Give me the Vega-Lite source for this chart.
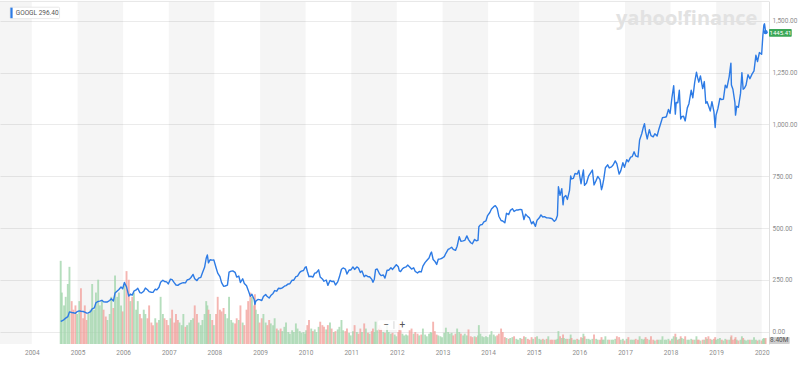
{
  "$schema": "https://vega.github.io/schema/vega-lite/v6.json",
  "width": 769,
  "height": 343,
  "autosize": {"type": "none"},
  "padding": {"left": 0, "top": 1, "right": 31, "bottom": 21},
  "background": "#ffffff",
  "config": {
    "view": {"stroke": null},
    "font": "Roboto",
    "scale": {"continuousPadding": 0},
    "axis": {"labelFont": "Roboto", "labelFontSize": 6.5, "labelColor": "#8c8c8c"}
  },
  "datasets": {
    "one": [{}],
    "bands": [
      {"s": "2003-01-01", "e": "2004-01-01"},
      {"s": "2005-01-01", "e": "2006-01-01"},
      {"s": "2007-01-01", "e": "2008-01-01"},
      {"s": "2009-01-01", "e": "2010-01-01"},
      {"s": "2011-01-01", "e": "2012-01-01"},
      {"s": "2013-01-01", "e": "2014-01-01"},
      {"s": "2015-01-01", "e": "2016-01-01"},
      {"s": "2017-01-01", "e": "2018-01-01"},
      {"s": "2019-01-01", "e": "2020-01-01"}
    ],
    "px": [
      {"d":"2004-08-19","p":50,"v":97},{"d":"2004-08-28","p":51,"v":60},{"d":"2004-09-15","p":58,"v":45},{"d":"2004-09-28","p":65,"v":55},
      {"d":"2004-10-15","p":72,"v":70},{"d":"2004-10-28","p":95,"v":90},{"d":"2004-11-15","p":92,"v":50},{"d":"2004-11-28","p":91,"v":40},
      {"d":"2004-12-15","p":88,"v":45},{"d":"2004-12-28","p":96,"v":35},
      {"d":"2005-01-15","p":100,"v":50},{"d":"2005-01-28","p":98,"v":65},{"d":"2005-02-15","p":97,"v":30},{"d":"2005-02-28","p":94,"v":45},
      {"d":"2005-03-15","p":89,"v":28},{"d":"2005-03-28","p":90,"v":35},{"d":"2005-04-15","p":96,"v":40},{"d":"2005-04-28","p":110,"v":70},
      {"d":"2005-05-15","p":114,"v":40},{"d":"2005-05-28","p":139,"v":60},{"d":"2005-06-15","p":146,"v":75},{"d":"2005-06-28","p":147,"v":45},
      {"d":"2005-07-15","p":151,"v":50},{"d":"2005-07-28","p":144,"v":40},{"d":"2005-08-15","p":143,"v":32},{"d":"2005-08-28","p":143,"v":28},
      {"d":"2005-09-15","p":150,"v":35},{"d":"2005-09-28","p":158,"v":55},{"d":"2005-10-15","p":148,"v":42},{"d":"2005-10-28","p":186,"v":80},
      {"d":"2005-11-15","p":196,"v":55},{"d":"2005-11-28","p":203,"v":60},{"d":"2005-12-15","p":215,"v":45},{"d":"2005-12-28","p":207,"v":38},
      {"d":"2006-01-11","p":237,"v":70},{"d":"2006-01-28","p":216,"v":85},{"d":"2006-02-15","p":171,"v":75},{"d":"2006-02-28","p":181,"v":50},
      {"d":"2006-03-15","p":176,"v":55},{"d":"2006-03-28","p":195,"v":60},{"d":"2006-04-15","p":201,"v":40},{"d":"2006-04-28","p":209,"v":50},
      {"d":"2006-05-15","p":188,"v":35},{"d":"2006-05-28","p":186,"v":30},{"d":"2006-06-15","p":195,"v":40},{"d":"2006-06-28","p":210,"v":35},
      {"d":"2006-07-15","p":202,"v":30},{"d":"2006-07-28","p":193,"v":45},{"d":"2006-08-15","p":190,"v":25},{"d":"2006-08-28","p":189,"v":22},
      {"d":"2006-09-15","p":205,"v":30},{"d":"2006-09-28","p":201,"v":25},{"d":"2006-10-15","p":214,"v":28},{"d":"2006-10-28","p":238,"v":55},
      {"d":"2006-11-15","p":248,"v":35},{"d":"2006-11-28","p":242,"v":30},{"d":"2006-12-15","p":240,"v":28},{"d":"2006-12-28","p":230,"v":22},
      {"d":"2007-01-15","p":253,"v":30},{"d":"2007-01-28","p":251,"v":40},{"d":"2007-02-15","p":235,"v":25},{"d":"2007-02-28","p":225,"v":35},
      {"d":"2007-03-15","p":223,"v":28},{"d":"2007-03-28","p":229,"v":25},{"d":"2007-04-15","p":234,"v":22},{"d":"2007-04-28","p":236,"v":35},
      {"d":"2007-05-15","p":235,"v":20},{"d":"2007-05-28","p":249,"v":22},{"d":"2007-06-15","p":253,"v":25},{"d":"2007-06-28","p":261,"v":28},
      {"d":"2007-07-15","p":276,"v":30},{"d":"2007-07-28","p":255,"v":45},{"d":"2007-08-15","p":246,"v":35},{"d":"2007-08-28","p":258,"v":25},
      {"d":"2007-09-15","p":262,"v":22},{"d":"2007-09-28","p":284,"v":28},{"d":"2007-10-15","p":310,"v":35},{"d":"2007-10-28","p":354,"v":50},
      {"d":"2007-11-06","p":370,"v":45},{"d":"2007-11-15","p":332,"v":40},{"d":"2007-11-28","p":347,"v":35},{"d":"2007-12-15","p":345,"v":28},
      {"d":"2007-12-28","p":346,"v":22},
      {"d":"2008-01-15","p":308,"v":35},{"d":"2008-01-28","p":282,"v":55},{"d":"2008-02-15","p":265,"v":40},{"d":"2008-02-28","p":236,"v":38},
      {"d":"2008-03-15","p":219,"v":42},{"d":"2008-03-28","p":220,"v":35},{"d":"2008-04-15","p":224,"v":30},{"d":"2008-04-28","p":287,"v":55},
      {"d":"2008-05-15","p":292,"v":28},{"d":"2008-05-28","p":293,"v":25},{"d":"2008-06-15","p":286,"v":24},{"d":"2008-06-28","p":263,"v":30},
      {"d":"2008-07-15","p":268,"v":28},{"d":"2008-07-28","p":237,"v":45},{"d":"2008-08-15","p":255,"v":25},{"d":"2008-08-28","p":232,"v":22},
      {"d":"2008-09-15","p":221,"v":40},{"d":"2008-09-28","p":200,"v":50},{"d":"2008-10-15","p":170,"v":60},{"d":"2008-10-28","p":180,"v":55},
      {"d":"2008-11-15","p":155,"v":45},{"d":"2008-11-21","p":131,"v":58},{"d":"2008-11-28","p":147,"v":40},{"d":"2008-12-15","p":155,"v":35},
      {"d":"2008-12-28","p":154,"v":25},
      {"d":"2009-01-15","p":150,"v":30},{"d":"2009-01-28","p":169,"v":35},{"d":"2009-02-15","p":179,"v":25},{"d":"2009-02-28","p":169,"v":22},
      {"d":"2009-03-15","p":162,"v":28},{"d":"2009-03-28","p":174,"v":24},{"d":"2009-04-15","p":184,"v":22},{"d":"2009-04-28","p":198,"v":30},
      {"d":"2009-05-15","p":195,"v":18},{"d":"2009-05-28","p":209,"v":16},{"d":"2009-06-15","p":208,"v":18},{"d":"2009-06-28","p":211,"v":15},
      {"d":"2009-07-15","p":219,"v":20},{"d":"2009-07-28","p":222,"v":25},{"d":"2009-08-15","p":230,"v":14},{"d":"2009-08-28","p":231,"v":12},
      {"d":"2009-09-15","p":248,"v":16},{"d":"2009-09-28","p":248,"v":14},{"d":"2009-10-15","p":265,"v":24},{"d":"2009-10-28","p":268,"v":18},
      {"d":"2009-11-15","p":286,"v":15},{"d":"2009-11-28","p":292,"v":13},{"d":"2009-12-15","p":295,"v":14},{"d":"2009-12-28","p":310,"v":12},
      {"d":"2010-01-05","p":313,"v":16},{"d":"2010-01-15","p":290,"v":22},{"d":"2010-01-28","p":265,"v":28},{"d":"2010-02-15","p":267,"v":18},
      {"d":"2010-02-28","p":263,"v":15},{"d":"2010-03-15","p":282,"v":17},{"d":"2010-03-28","p":284,"v":14},{"d":"2010-04-15","p":298,"v":20},
      {"d":"2010-04-28","p":263,"v":26},{"d":"2010-05-15","p":254,"v":22},{"d":"2010-05-28","p":243,"v":20},{"d":"2010-06-15","p":249,"v":17},
      {"d":"2010-06-28","p":223,"v":22},{"d":"2010-07-15","p":247,"v":25},{"d":"2010-07-28","p":242,"v":18},{"d":"2010-08-15","p":243,"v":14},
      {"d":"2010-08-28","p":225,"v":15},{"d":"2010-09-15","p":240,"v":17},{"d":"2010-09-28","p":263,"v":20},{"d":"2010-10-15","p":301,"v":28},
      {"d":"2010-10-28","p":307,"v":16},{"d":"2010-11-15","p":302,"v":15},{"d":"2010-11-28","p":278,"v":18},{"d":"2010-12-15","p":297,"v":13},
      {"d":"2010-12-28","p":297,"v":10},
      {"d":"2011-01-15","p":312,"v":15},{"d":"2011-01-28","p":300,"v":22},{"d":"2011-02-15","p":312,"v":14},{"d":"2011-02-28","p":307,"v":12},
      {"d":"2011-03-15","p":285,"v":18},{"d":"2011-03-28","p":293,"v":14},{"d":"2011-04-15","p":265,"v":24},{"d":"2011-04-28","p":272,"v":18},
      {"d":"2011-05-15","p":265,"v":13},{"d":"2011-05-28","p":265,"v":12},{"d":"2011-06-15","p":252,"v":15},{"d":"2011-06-24","p":238,"v":18},
      {"d":"2011-07-05","p":253,"v":14},{"d":"2011-07-15","p":299,"v":26},{"d":"2011-07-28","p":302,"v":16},{"d":"2011-08-15","p":279,"v":22},
      {"d":"2011-08-28","p":270,"v":18},{"d":"2011-09-15","p":273,"v":14},{"d":"2011-09-28","p":258,"v":13},{"d":"2011-10-15","p":296,"v":22},
      {"d":"2011-10-28","p":296,"v":14},{"d":"2011-11-15","p":308,"v":12},{"d":"2011-11-28","p":300,"v":13},{"d":"2011-12-15","p":313,"v":11},
      {"d":"2011-12-28","p":323,"v":9},
      {"d":"2012-01-13","p":313,"v":14},{"d":"2012-01-21","p":293,"v":24},{"d":"2012-01-31","p":290,"v":16},{"d":"2012-02-15","p":303,"v":12},
      {"d":"2012-02-28","p":309,"v":10},{"d":"2012-03-15","p":312,"v":11},{"d":"2012-03-28","p":321,"v":10},{"d":"2012-04-13","p":312,"v":16},
      {"d":"2012-04-28","p":302,"v":18},{"d":"2012-05-15","p":308,"v":12},{"d":"2012-05-28","p":290,"v":14},{"d":"2012-06-15","p":283,"v":12},
      {"d":"2012-06-28","p":290,"v":10},{"d":"2012-07-15","p":288,"v":11},{"d":"2012-07-28","p":316,"v":18},{"d":"2012-08-15","p":334,"v":11},
      {"d":"2012-08-28","p":343,"v":9},{"d":"2012-09-15","p":355,"v":12},{"d":"2012-09-28","p":377,"v":14},{"d":"2012-10-05","p":384,"v":13},
      {"d":"2012-10-18","p":348,"v":26},{"d":"2012-10-31","p":340,"v":15},{"d":"2012-11-15","p":324,"v":11},{"d":"2012-11-28","p":349,"v":10},
      {"d":"2012-12-15","p":351,"v":9},{"d":"2012-12-28","p":354,"v":8},
      {"d":"2013-01-15","p":362,"v":13},{"d":"2013-01-28","p":378,"v":19},{"d":"2013-02-15","p":397,"v":14},{"d":"2013-02-28","p":401,"v":12},
      {"d":"2013-03-15","p":407,"v":13},{"d":"2013-03-28","p":397,"v":10},{"d":"2013-04-15","p":392,"v":12},{"d":"2013-04-28","p":412,"v":18},
      {"d":"2013-05-15","p":458,"v":14},{"d":"2013-05-28","p":436,"v":12},{"d":"2013-06-15","p":438,"v":10},{"d":"2013-06-28","p":440,"v":12},
      {"d":"2013-07-15","p":462,"v":10},{"d":"2013-07-28","p":444,"v":17},{"d":"2013-08-15","p":429,"v":9},{"d":"2013-08-28","p":424,"v":8},
      {"d":"2013-09-15","p":445,"v":9},{"d":"2013-09-28","p":438,"v":8},{"d":"2013-10-12","p":441,"v":10},{"d":"2013-10-19","p":506,"v":22},
      {"d":"2013-10-31","p":515,"v":12},{"d":"2013-11-15","p":517,"v":9},{"d":"2013-11-28","p":530,"v":8},{"d":"2013-12-15","p":535,"v":9},
      {"d":"2013-12-28","p":560,"v":8},
      {"d":"2014-01-15","p":575,"v":11},{"d":"2014-01-28","p":592,"v":15},{"d":"2014-02-15","p":603,"v":11},{"d":"2014-02-28","p":608,"v":9},
      {"d":"2014-03-15","p":595,"v":10},{"d":"2014-03-28","p":557,"v":12},{"d":"2014-04-15","p":536,"v":18},{"d":"2014-04-28","p":534,"v":14},
      {"d":"2014-05-15","p":525,"v":8},{"d":"2014-05-28","p":571,"v":7},{"d":"2014-06-15","p":565,"v":6},{"d":"2014-06-28","p":585,"v":7},
      {"d":"2014-07-15","p":593,"v":8},{"d":"2014-07-28","p":580,"v":9},{"d":"2014-08-15","p":587,"v":6},{"d":"2014-08-28","p":587,"v":5},
      {"d":"2014-09-15","p":590,"v":7},{"d":"2014-09-28","p":588,"v":6},{"d":"2014-10-15","p":541,"v":9},{"d":"2014-10-28","p":567,"v":8},
      {"d":"2014-11-15","p":555,"v":6},{"d":"2014-11-28","p":549,"v":5},{"d":"2014-12-15","p":520,"v":8},{"d":"2014-12-28","p":531,"v":6},
      {"d":"2015-01-15","p":508,"v":8},{"d":"2015-01-28","p":538,"v":9},{"d":"2015-02-15","p":549,"v":6},{"d":"2015-02-28","p":563,"v":5},
      {"d":"2015-03-15","p":553,"v":6},{"d":"2015-03-28","p":555,"v":5},{"d":"2015-04-15","p":549,"v":6},{"d":"2015-04-28","p":549,"v":9},
      {"d":"2015-05-15","p":547,"v":5},{"d":"2015-05-28","p":545,"v":5},{"d":"2015-06-15","p":532,"v":5},{"d":"2015-06-28","p":540,"v":5},
      {"d":"2015-07-10","p":560,"v":6},{"d":"2015-07-18","p":699,"v":15},{"d":"2015-07-31","p":658,"v":9},{"d":"2015-08-14","p":690,"v":7},
      {"d":"2015-08-24","p":612,"v":11},{"d":"2015-08-31","p":648,"v":7},{"d":"2015-09-15","p":657,"v":6},{"d":"2015-09-28","p":638,"v":6},
      {"d":"2015-10-15","p":682,"v":6},{"d":"2015-10-24","p":751,"v":11},{"d":"2015-10-31","p":737,"v":7},{"d":"2015-11-15","p":740,"v":5},
      {"d":"2015-11-28","p":763,"v":5},{"d":"2015-12-15","p":760,"v":6},{"d":"2015-12-28","p":778,"v":5},
      {"d":"2016-01-15","p":714,"v":8},{"d":"2016-01-28","p":761,"v":7},{"d":"2016-02-03","p":780,"v":12},{"d":"2016-02-12","p":706,"v":9},
      {"d":"2016-02-28","p":717,"v":6},{"d":"2016-03-15","p":750,"v":6},{"d":"2016-03-28","p":763,"v":5},{"d":"2016-04-15","p":780,"v":6},
      {"d":"2016-04-28","p":708,"v":11},{"d":"2016-05-15","p":730,"v":6},{"d":"2016-05-28","p":749,"v":5},{"d":"2016-06-15","p":734,"v":5},
      {"d":"2016-06-27","p":685,"v":8},{"d":"2016-07-05","p":703,"v":5},{"d":"2016-07-15","p":736,"v":5},{"d":"2016-07-28","p":791,"v":9},
      {"d":"2016-08-15","p":805,"v":5},{"d":"2016-08-28","p":790,"v":5},{"d":"2016-09-15","p":795,"v":5},{"d":"2016-09-28","p":804,"v":5},
      {"d":"2016-10-15","p":824,"v":6},{"d":"2016-10-28","p":810,"v":9},{"d":"2016-11-15","p":760,"v":8},{"d":"2016-11-28","p":776,"v":5},
      {"d":"2016-12-15","p":815,"v":6},{"d":"2016-12-28","p":793,"v":4},
      {"d":"2017-01-15","p":830,"v":6},{"d":"2017-01-28","p":820,"v":8},{"d":"2017-02-15","p":842,"v":5},{"d":"2017-02-28","p":845,"v":5},
      {"d":"2017-03-15","p":868,"v":5},{"d":"2017-03-28","p":848,"v":6},{"d":"2017-04-15","p":843,"v":5},{"d":"2017-04-28","p":925,"v":9},
      {"d":"2017-05-15","p":955,"v":6},{"d":"2017-05-28","p":987,"v":5},{"d":"2017-06-06","p":1004,"v":6},{"d":"2017-06-15","p":965,"v":8},
      {"d":"2017-06-28","p":930,"v":6},{"d":"2017-07-15","p":975,"v":5},{"d":"2017-07-28","p":946,"v":9},{"d":"2017-08-15","p":940,"v":5},
      {"d":"2017-08-28","p":955,"v":4},{"d":"2017-09-15","p":944,"v":5},{"d":"2017-09-28","p":974,"v":5},{"d":"2017-10-15","p":1007,"v":5},
      {"d":"2017-10-28","p":1033,"v":9},{"d":"2017-11-15","p":1035,"v":5},{"d":"2017-11-28","p":1037,"v":5},{"d":"2017-12-15","p":1072,"v":6},
      {"d":"2017-12-28","p":1053,"v":4},
      {"d":"2018-01-12","p":1130,"v":6},{"d":"2018-01-26","p":1187,"v":9},{"d":"2018-02-08","p":1050,"v":12},{"d":"2018-02-15","p":1106,"v":8},
      {"d":"2018-02-28","p":1105,"v":5},{"d":"2018-03-12","p":1165,"v":6},{"d":"2018-03-23","p":1026,"v":9},{"d":"2018-03-31","p":1037,"v":7},
      {"d":"2018-04-15","p":1040,"v":6},{"d":"2018-04-28","p":1017,"v":9},{"d":"2018-05-15","p":1080,"v":5},{"d":"2018-05-28","p":1100,"v":5},
      {"d":"2018-06-15","p":1165,"v":6},{"d":"2018-06-28","p":1129,"v":5},{"d":"2018-07-13","p":1203,"v":5},{"d":"2018-07-27","p":1252,"v":9},
      {"d":"2018-08-05","p":1227,"v":5},{"d":"2018-08-15","p":1204,"v":5},{"d":"2018-08-28","p":1234,"v":4},{"d":"2018-09-15","p":1173,"v":5},
      {"d":"2018-09-28","p":1207,"v":5},{"d":"2018-10-10","p":1102,"v":8},{"d":"2018-10-20","p":1110,"v":6},{"d":"2018-10-31","p":1091,"v":9},
      {"d":"2018-11-15","p":1065,"v":6},{"d":"2018-11-28","p":1110,"v":5},{"d":"2018-12-14","p":1062,"v":6},{"d":"2018-12-24","p":985,"v":8},
      {"d":"2018-12-31","p":1045,"v":5},
      {"d":"2019-01-15","p":1077,"v":6},{"d":"2019-01-31","p":1126,"v":7},{"d":"2019-02-15","p":1120,"v":5},{"d":"2019-02-28","p":1122,"v":4},
      {"d":"2019-03-15","p":1190,"v":6},{"d":"2019-03-28","p":1177,"v":5},{"d":"2019-04-15","p":1230,"v":5},{"d":"2019-04-29","p":1296,"v":8},
      {"d":"2019-05-03","p":1190,"v":10},{"d":"2019-05-15","p":1170,"v":5},{"d":"2019-05-31","p":1106,"v":6},{"d":"2019-06-05","p":1045,"v":8},
      {"d":"2019-06-15","p":1088,"v":5},{"d":"2019-06-28","p":1083,"v":4},{"d":"2019-07-15","p":1150,"v":5},{"d":"2019-07-26","p":1250,"v":9},
      {"d":"2019-08-05","p":1170,"v":7},{"d":"2019-08-15","p":1175,"v":5},{"d":"2019-08-28","p":1190,"v":4},{"d":"2019-09-13","p":1240,"v":5},
      {"d":"2019-09-28","p":1221,"v":5},{"d":"2019-10-15","p":1243,"v":5},{"d":"2019-10-31","p":1259,"v":8},{"d":"2019-11-15","p":1334,"v":5},
      {"d":"2019-11-28","p":1304,"v":4},{"d":"2019-12-13","p":1347,"v":5},{"d":"2019-12-31","p":1339,"v":4},
      {"d":"2020-01-10","p":1430,"v":6},{"d":"2020-01-18","p":1480,"v":7},{"d":"2020-01-23","p":1486,"v":6},{"d":"2020-02-01","p":1445.41,"v":7}
    ]
  },
  "resolve": {"scale": {"y": "independent"}, "axis": {"y": "independent"}},
  "layer": [
    {
      "data": {"name": "bands"},
      "mark": {"type": "rect", "color": "#000000", "opacity": 0.04, "clip": true},
      "encoding": {
        "x": {
          "field": "s", "type": "temporal",
          "scale": {"domain": [1050883200000, 1582848000000], "nice": false, "padding": 0},
          "axis": {"format": "%Y", "tickCount": {"interval": "year", "step": 1}, "domain": false, "ticks": false, "tickSize": 0, "grid": false, "labelPadding": 5, "title": null}
        },
        "x2": {"field": "e"}
      }
    },
    {
      "data": {"name": "px"},
      "transform": [{"window": [{"op": "lag", "field": "p", "as": "q"}], "sort": [{"field": "d"}]}],
      "mark": {"type": "bar", "width": 1.9, "opacity": 0.8},
      "encoding": {
        "x": {"field": "d", "type": "temporal", "scale": {"domain": [1050883200000, 1582848000000], "nice": false, "padding": 0}, "axis": {"title": null}},
        "y": {"field": "v", "type": "quantitative", "scale": {"domain": [0, 400], "nice": false, "zero": true}, "axis": null},
        "color": {"condition": {"test": "datum.p >= datum.q", "value": "#a3d6ad"}, "value": "#f2a39d"}
      }
    },
    {
      "layer": [
        {
          "data": {"name": "one"},
          "mark": {"type": "text", "text": "yahoo!finance", "font": "Open Sans", "fontSize": 20, "fontWeight": "bold", "color": "#e2e2e2", "align": "center", "baseline": "alphabetic"},
          "encoding": {
            "x": {"datum": {"year": 2018, "month": 5, "date": 10}, "type": "temporal", "scale": {"domain": [1050883200000, 1582848000000], "nice": false, "padding": 0}, "axis": {"title": null}},
            "y": {"datum": 1481, "type": "quantitative", "scale": {"domain": [-60, 1596], "nice": false, "zero": false}, "axis": {"title": null}}
          }
        },
        {
          "data": {"name": "one"},
          "mark": {"type": "rule", "color": "#e6e6e6", "strokeWidth": 1},
          "encoding": {
            "y": {"datum": 1594, "type": "quantitative", "scale": {"domain": [-60, 1596], "nice": false, "zero": false}, "axis": {"title": null}}
          }
        },
        {
          "data": {"name": "px"},
          "mark": {"type": "line", "color": "#2d7be5", "strokeWidth": 1.4, "strokeJoin": "round"},
          "encoding": {
            "x": {"field": "d", "type": "temporal", "scale": {"domain": [1050883200000, 1582848000000], "nice": false, "padding": 0}, "axis": {"title": null}},
            "y": {
              "field": "p", "type": "quantitative",
              "scale": {"domain": [-60, 1596], "nice": false, "zero": false},
              "axis": {"orient": "right", "values": [0, 250, 500, 750, 1000, 1250, 1500], "format": ",.2f", "domain": true, "domainColor": "#e0e0e0", "ticks": false, "tickSize": 0, "labelPadding": 3, "grid": true, "gridColor": "#ebebeb", "labelBaseline": "middle", "title": null}
            }
          }
        },
        {
          "data": {"name": "one"},
          "mark": {"type": "point", "filled": true, "shape": "circle", "size": 18, "color": "#2d7be5", "opacity": 1},
          "encoding": {
            "x": {"datum": {"year": 2020, "month": 2, "date": 1}, "type": "temporal", "scale": {"domain": [1050883200000, 1582848000000], "nice": false, "padding": 0}, "axis": {"title": null}},
            "y": {"datum": 1445.41, "type": "quantitative", "scale": {"domain": [-60, 1596], "nice": false, "zero": false}, "axis": {"title": null}}
          }
        },
        {
          "data": {"name": "one"},
          "mark": {"type": "rect", "color": "#ffffff", "stroke": "#e3e3e3", "strokeWidth": 0.8, "cornerRadius": 1},
          "encoding": {
            "x": {"datum": {"year": 2003, "month": 7, "date": 10}, "type": "temporal", "scale": {"domain": [1050883200000, 1582848000000], "nice": false, "padding": 0}, "axis": {"title": null}},
            "x2": {"datum": {"year": 2004, "month": 8, "date": 10}},
            "y": {"datum": 1566, "type": "quantitative", "scale": {"domain": [-60, 1596], "nice": false, "zero": false}, "axis": {"title": null}},
            "y2": {"datum": 1511}
          }
        },
        {
          "data": {"name": "one"},
          "mark": {"type": "rect", "color": "#2d7be5"},
          "encoding": {
            "x": {"datum": {"year": 2003, "month": 7, "date": 13}, "type": "temporal", "scale": {"domain": [1050883200000, 1582848000000], "nice": false, "padding": 0}, "axis": {"title": null}},
            "x2": {"datum": {"year": 2003, "month": 7, "date": 31}},
            "y": {"datum": 1564, "type": "quantitative", "scale": {"domain": [-60, 1596], "nice": false, "zero": false}, "axis": {"title": null}},
            "y2": {"datum": 1513}
          }
        },
        {
          "data": {"name": "one"},
          "mark": {"type": "text", "text": "GOOGL 296.40", "fontSize": 6.5, "color": "#555555", "align": "left", "baseline": "middle"},
          "encoding": {
            "x": {"datum": {"year": 2003, "month": 8, "date": 25}, "type": "temporal", "scale": {"domain": [1050883200000, 1582848000000], "nice": false, "padding": 0}, "axis": {"title": null}},
            "y": {"datum": 1539, "type": "quantitative", "scale": {"domain": [-60, 1596], "nice": false, "zero": false}, "axis": {"title": null}}
          }
        },
        {
          "data": {"name": "one"},
          "mark": {"type": "rect", "color": "#ffffff", "opacity": 0.85, "cornerRadius": 2},
          "encoding": {
            "x": {"datum": {"year": 2011, "month": 8, "date": 3}, "type": "temporal", "scale": {"domain": [1050883200000, 1582848000000], "nice": false, "padding": 0}, "axis": {"title": null}},
            "x2": {"datum": {"year": 2012, "month": 4, "date": 16}},
            "y": {"datum": 55, "type": "quantitative", "scale": {"domain": [-60, 1596], "nice": false, "zero": false}, "axis": {"title": null}},
            "y2": {"datum": 8}
          }
        },
        {
          "data": {"name": "one"},
          "mark": {"type": "rule", "color": "#d6d6d6", "strokeWidth": 1},
          "encoding": {
            "x": {"datum": {"year": 2011, "month": 12, "date": 9}, "type": "temporal", "scale": {"domain": [1050883200000, 1582848000000], "nice": false, "padding": 0}, "axis": {"title": null}},
            "y": {"datum": 50, "type": "quantitative", "scale": {"domain": [-60, 1596], "nice": false, "zero": false}, "axis": {"title": null}},
            "y2": {"datum": 13}
          }
        },
        {
          "data": {"name": "one"},
          "mark": {"type": "text", "text": "−", "fontSize": 10, "color": "#555555", "align": "center", "baseline": "middle"},
          "encoding": {
            "x": {"datum": {"year": 2011, "month": 10, "date": 7}, "type": "temporal", "scale": {"domain": [1050883200000, 1582848000000], "nice": false, "padding": 0}, "axis": {"title": null}},
            "y": {"datum": 34, "type": "quantitative", "scale": {"domain": [-60, 1596], "nice": false, "zero": false}, "axis": {"title": null}}
          }
        },
        {
          "data": {"name": "one"},
          "mark": {"type": "text", "text": "+", "fontSize": 10, "color": "#555555", "align": "center", "baseline": "middle"},
          "encoding": {
            "x": {"datum": {"year": 2012, "month": 2, "date": 14}, "type": "temporal", "scale": {"domain": [1050883200000, 1582848000000], "nice": false, "padding": 0}, "axis": {"title": null}},
            "y": {"datum": 34, "type": "quantitative", "scale": {"domain": [-60, 1596], "nice": false, "zero": false}, "axis": {"title": null}}
          }
        },
        {
          "data": {"name": "one"},
          "mark": {"type": "rect", "color": "#3aa757", "cornerRadius": 1},
          "encoding": {
            "x": {"datum": {"year": 2020, "month": 2, "date": 28}, "type": "temporal", "scale": {"domain": [1050883200000, 1582848000000], "nice": false, "padding": 0}, "axis": {"title": null}},
            "x2": {"datum": {"year": 2020, "month": 8, "date": 28}},
            "y": {"datum": 1461, "type": "quantitative", "scale": {"domain": [-60, 1596], "nice": false, "zero": false}, "axis": {"title": null}},
            "y2": {"datum": 1423}
          }
        },
        {
          "data": {"name": "one"},
          "mark": {"type": "text", "text": "1445.41", "fontSize": 6, "color": "#ffffff", "align": "center", "baseline": "middle"},
          "encoding": {
            "x": {"datum": {"year": 2020, "month": 5, "date": 30}, "type": "temporal", "scale": {"domain": [1050883200000, 1582848000000], "nice": false, "padding": 0}, "axis": {"title": null}},
            "y": {"datum": 1442, "type": "quantitative", "scale": {"domain": [-60, 1596], "nice": false, "zero": false}, "axis": {"title": null}}
          }
        },
        {
          "data": {"name": "one"},
          "mark": {"type": "rect", "color": "#cfcfcf", "cornerRadius": 1},
          "encoding": {
            "x": {"datum": {"year": 2020, "month": 2, "date": 28}, "type": "temporal", "scale": {"domain": [1050883200000, 1582848000000], "nice": false, "padding": 0}, "axis": {"title": null}},
            "x2": {"datum": {"year": 2020, "month": 8, "date": 12}},
            "y": {"datum": -26, "type": "quantitative", "scale": {"domain": [-60, 1596], "nice": false, "zero": false}, "axis": {"title": null}},
            "y2": {"datum": -60}
          }
        },
        {
          "data": {"name": "one"},
          "mark": {"type": "text", "text": "8.40M", "fontSize": 6.5, "color": "#555555", "align": "center", "baseline": "middle"},
          "encoding": {
            "x": {"datum": {"year": 2020, "month": 5, "date": 20}, "type": "temporal", "scale": {"domain": [1050883200000, 1582848000000], "nice": false, "padding": 0}, "axis": {"title": null}},
            "y": {"datum": -43, "type": "quantitative", "scale": {"domain": [-60, 1596], "nice": false, "zero": false}, "axis": {"title": null}}
          }
        }
      ]
    }
  ]
}
